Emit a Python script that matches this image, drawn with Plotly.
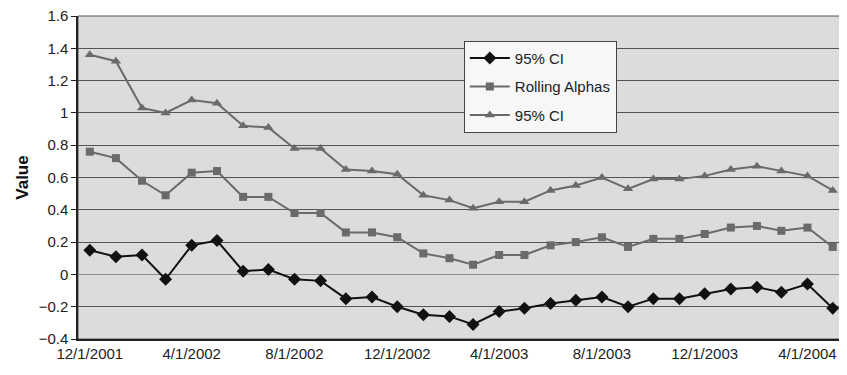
import plotly.graph_objects as go
import pandas as pd

dates = pd.date_range("2001-12-01", "2004-05-01", freq="MS")

lower_ci = [0.15, 0.11, 0.12, -0.03, 0.18, 0.21, 0.02, 0.03, -0.03, -0.04,
            -0.15, -0.14, -0.20, -0.25, -0.26, -0.31, -0.23, -0.21, -0.18, -0.16,
            -0.14, -0.20, -0.15, -0.15, -0.12, -0.09, -0.08, -0.11, -0.06, -0.21]
rolling_alphas = [0.76, 0.72, 0.58, 0.49, 0.63, 0.64, 0.48, 0.48, 0.38, 0.38,
                  0.26, 0.26, 0.23, 0.13, 0.10, 0.06, 0.12, 0.12, 0.18, 0.20,
                  0.23, 0.17, 0.22, 0.22, 0.25, 0.29, 0.30, 0.27, 0.29, 0.17]
upper_ci = [1.36, 1.32, 1.03, 1.00, 1.08, 1.06, 0.92, 0.91, 0.78, 0.78,
            0.65, 0.64, 0.62, 0.49, 0.46, 0.41, 0.45, 0.45, 0.52, 0.55,
            0.60, 0.53, 0.59, 0.59, 0.61, 0.65, 0.67, 0.64, 0.61, 0.52]

tick_dates = ["2001-12-01", "2002-04-01", "2002-08-01", "2002-12-01",
              "2003-04-01", "2003-08-01", "2003-12-01", "2004-04-01"]
tick_labels = ["12/1/2001", "4/1/2002", "8/1/2002", "12/1/2002",
               "4/1/2003", "8/1/2003", "12/1/2003", "4/1/2004"]
y_ticks = [-0.4, -0.2, 0, 0.2, 0.4, 0.6, 0.8, 1, 1.2, 1.4, 1.6]
y_labels = ["\u22120.4", "\u22120.2", "0", "0.2", "0.4", "0.6", "0.8", "1", "1.2", "1.4", "1.6"]

fig = go.Figure()
fig.add_trace(go.Scatter(x=dates, y=lower_ci, name="95% CI", mode="lines+markers",
                         legendgroup="a",
                         line=dict(color="#111111", width=2),
                         marker=dict(symbol="diamond", size=10, color="#111111")))
fig.add_trace(go.Scatter(x=dates, y=rolling_alphas, name="Rolling Alphas", mode="lines+markers",
                         legendgroup="b",
                         line=dict(color="#6a6a6a", width=2),
                         marker=dict(symbol="square", size=8, color="#6a6a6a")))
fig.add_trace(go.Scatter(x=dates, y=upper_ci, name="95% CI", mode="lines+markers",
                         legendgroup="c",
                         line=dict(color="#6a6a6a", width=2),
                         marker=dict(symbol="triangle-up", size=9, color="#6a6a6a")))

# page body has an 8px default margin; compensate so plot area lands where the reference has it
fig.update_layout(
    width=839, height=367,
    margin=dict(l=70, r=5, t=8, b=36, autoexpand=False),
    paper_bgcolor="white",
    plot_bgcolor="#dcdcdc",
    font=dict(family="Liberation Sans, Arial, sans-serif", size=15, color="#222222"),
    showlegend=True,
    legend=dict(x=0.505, y=0.923, xanchor="left", yanchor="top",
                bgcolor="#f7f7f7", bordercolor="#444444", borderwidth=1,
                font=dict(size=15, color="#222222"), tracegroupgap=6,
                itemwidth=40),
    shapes=[dict(type="rect", xref="paper", yref="paper", x0=0, x1=1, y0=0, y1=1,
                 line=dict(color="#555555", width=1), layer="below")],
)
fig.update_xaxes(
    range=["2001-11-17", "2004-05-12"],
    tickvals=tick_dates, ticktext=tick_labels,
    showgrid=False, showline=True, linecolor="#222222", linewidth=1.5,
    mirror=False, ticks="", tickfont=dict(size=15), automargin=False,
    ticklabeloverflow="allow",
)
fig.update_yaxes(
    range=[-0.4, 1.6], tickvals=y_ticks, ticktext=y_labels,
    showgrid=True, gridcolor="#555555", gridwidth=1,
    zeroline=True, zerolinecolor="#8a8a8a", zerolinewidth=1,
    showline=True, linecolor="#222222", linewidth=1.5,
    ticks="outside", ticklen=5, tickcolor="#222222",
    tickfont=dict(size=15), automargin=False, ticklabeloverflow="allow",
    title=dict(text="<b>Value</b>", font=dict(size=17, color="#111111"), standoff=6),
)
fig.write_html("out.html")
